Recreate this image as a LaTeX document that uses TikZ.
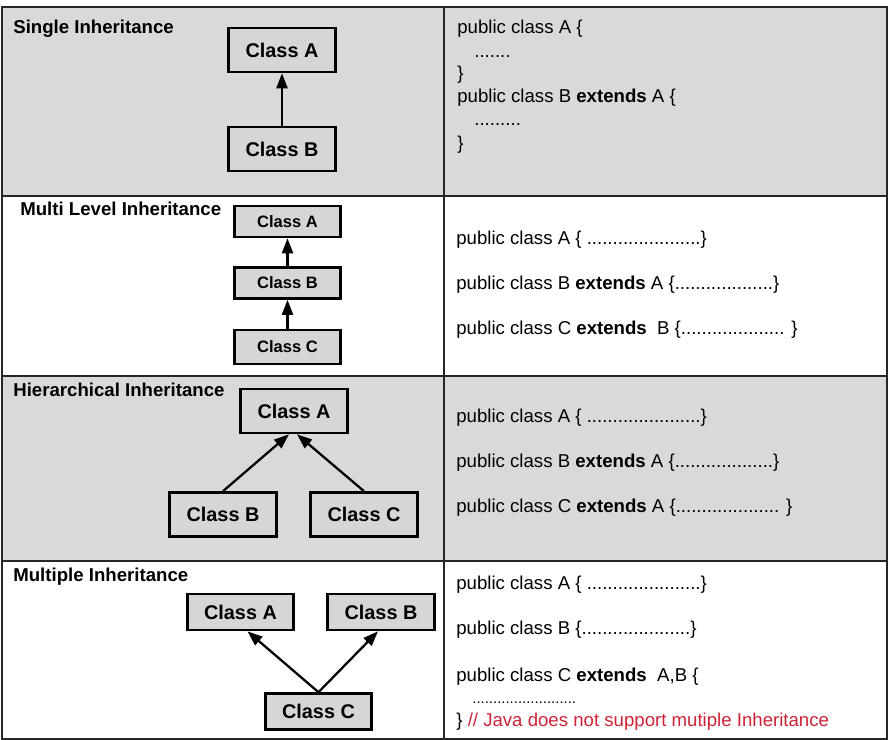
\documentclass[tikz,border=0pt]{standalone}
\usepackage{fontspec}
\setmainfont{Liberation Sans}
\usetikzlibrary{arrows.meta}
\definecolor{rowgray}{RGB}{217,217,217}
\definecolor{boxgray}{RGB}{214,214,214}
\definecolor{notered}{RGB}{205,35,55}

\begin{document}
\begin{tikzpicture}[x=0.02cm,y=-0.02cm,
	grid/.style={line width=1.3pt,black!85},
	cls/.style={draw,fill=boxgray,line width=1.5pt,inner sep=0pt,
		minimum width=2.13cm,minimum height=0.88cm,font=\fontsize{11.3}{13}\selectfont\bfseries},
	small/.style={cls,minimum height=0.62cm,font=\fontsize{9.4}{11}\selectfont\bfseries},
	mid/.style={cls,minimum height=0.72cm},
	ttl/.style={anchor=west,inner sep=0pt,font=\fontsize{10.6}{12}\selectfont\bfseries},
	code/.style={anchor=west,inner sep=0pt,font=\fontsize{10.6}{12}\selectfont},
	inh/.style={line width=1.3pt,-{Triangle[length=0.3cm,width=0.22cm]}}]
	\useasboundingbox (0,0) rectangle (889,740);
	% table
	\fill[rowgray] (2,7) rectangle (887,196);
	\fill[rowgray] (2,376) rectangle (887,561);
	\draw[grid] (2,7) rectangle (887,739);
	\draw[grid] (444,7) -- (444,739);
	\foreach \y in {196,376,561}
		\draw[grid] (2,\y) -- (887,\y);
	% single
	\node[ttl] (t1) at (13,29) {Single Inheritance};
	\node[cls] (sA) at (282,50) {Class A};
	\node[cls] (sB) at (282,149) {Class B};
	\draw[inh] (sB) -- (sA);
	\node[code] (s1) at (457,29) {public class A \{};
	\node[code] (s2) at (474,57) {.......};
	\node[code] (s3) at (457,75) {\}};
	\node[code] (s4) at (457,98) {public class B \textbf{extends} A \{};
	\node[code] (s5) at (474,125) {.........};
	\node[code] (s6) at (457,145) {\}};
	% multi level
	\node[ttl] (t2) at (20,209) {Multi Level Inheritance};
	\node[small] (mA) at (287.5,221.5) {Class A};
	\node[small] (mB) at (287.5,283) {Class B};
	\node[small,minimum height=0.68cm] (mC) at (287.5,347) {Class C};
	\draw[inh] (mB) -- (mA);
	\draw[inh] (mC) -- (mB);
	\node[code] (m1) at (456,240) {public class A \{ ......................\}};
	\node[code] (m2) at (456,285) {public class B \textbf{extends} A \{...................\}};
	\node[code] (m3) at (456,330) {public class C \textbf{extends}\ \ B \{.................... \}};
	% hierarchical
	\node[ttl] (t3) at (13,390) {Hierarchical Inheritance};
	\node[cls] (hA) at (294,411) {Class A};
	\node[cls] (hB) at (223,514.5) {Class B};
	\node[cls] (hC) at (364,514.5) {Class C};
	\draw[inh] (hB.north) -- ([xshift=-0.1cm]hA.south);
	\draw[inh] (hC.north) -- ([xshift=0.06cm]hA.south);
	\node[code] (h1) at (456,418) {public class A \{ ......................\}};
	\node[code] (h2) at (456,463) {public class B \textbf{extends} A \{...................\}};
	\node[code] (h3) at (456,508) {public class C \textbf{extends} A \{.................... \}};
	% multiple
	\node[ttl] (t4) at (13,577) {Multiple Inheritance};
	\node[mid] (pA) at (240.5,612) {Class A};
	\node[mid] (pB) at (381,612) {Class B};
	\node[mid] (pC) at (318.5,711.5) {Class C};
	\draw[inh] (pC.north) -- ([xshift=0.14cm]pA.south);
	\draw[inh] (pC.north) -- ([xshift=-0.06cm]pB.south);
	\node[code] (p1) at (456,585) {public class A \{ ......................\}};
	\node[code] (p2) at (456,630) {public class B \{.....................\}};
	\node[code] (p3) at (456,677) {public class C \textbf{extends}\ \ A,B \{};
	\node[code,font=\fontsize{8.5}{10}\selectfont] (p4) at (472,703) {.........................};
	\node[code] (p5) at (456,722) {\} {\color{notered}// Java does not support mutiple Inheritance}};
\end{tikzpicture}
\end{document}
